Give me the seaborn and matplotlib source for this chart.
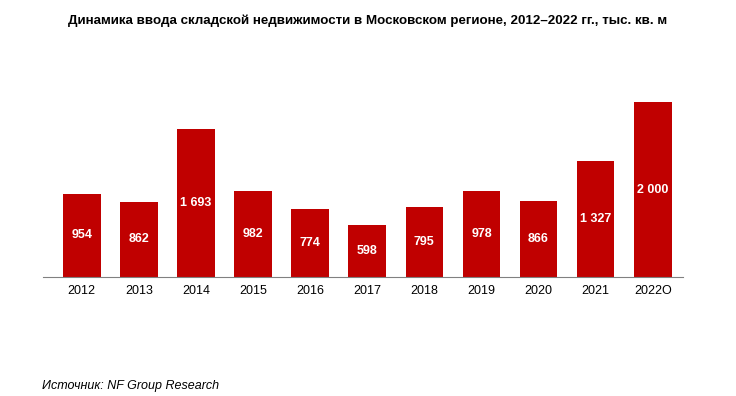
import matplotlib
matplotlib.use("Agg")
import matplotlib.pyplot as plt
import seaborn as sns
import pandas as pd

years = ["2012", "2013", "2014", "2015", "2016", "2017", "2018", "2019", "2020", "2021", "2022О"]
volumes = [954, 862, 1693, 982, 774, 598, 795, 978, 866, 1327, 2000]
value_labels = ["954", "862", "1 693", "982", "774", "598", "795", "978", "866", "1 327", "2 000"]

title = "Динамика ввода складской недвижимости в Московском регионе, 2012–2022 гг., тыс. кв. м"
source = "Источник: NF Group Research"

sns.set_theme(style="white")
plt.rcParams["font.family"] = ["Liberation Sans", "DejaVu Sans"]
plt.rcParams["text.color"] = "black"
plt.rcParams["xtick.color"] = "black"

df = pd.DataFrame({"year": years, "volume": volumes})

fig = plt.figure(figsize=(7.36, 3.96), dpi=100)
ax = fig.add_axes([0.0584, 0.3005, 0.8696, 0.5303])
sns.barplot(data=df, x="year", y="volume", color="#C00000", saturation=1,
            width=0.66, linewidth=0, ax=ax)

for i, (v, lab) in enumerate(zip(volumes, value_labels)):
    ax.text(i, v / 2, lab, ha="center", va="center", color="white",
            fontsize=9, fontweight="bold")

ax.set_xlim(-0.68, 10.53)
ax.set_ylim(0, 2400)
ax.set_xlabel("")
ax.set_ylabel("")
ax.set_yticks([])
ax.tick_params(axis="x", length=0, labelsize=9, pad=6, labelcolor="black")
for s in ["top", "right", "left"]:
    ax.spines[s].set_visible(False)
ax.spines["bottom"].set_color("#808080")
ax.spines["bottom"].set_linewidth(0.8)

fig.text(0.5, 0.948, title, ha="center", va="center", fontsize=9.6, fontweight="bold")
fig.text(0.057, 0.01, source, ha="left", va="bottom", fontsize=9, style="italic")

fig.savefig("out.png", dpi=100)
